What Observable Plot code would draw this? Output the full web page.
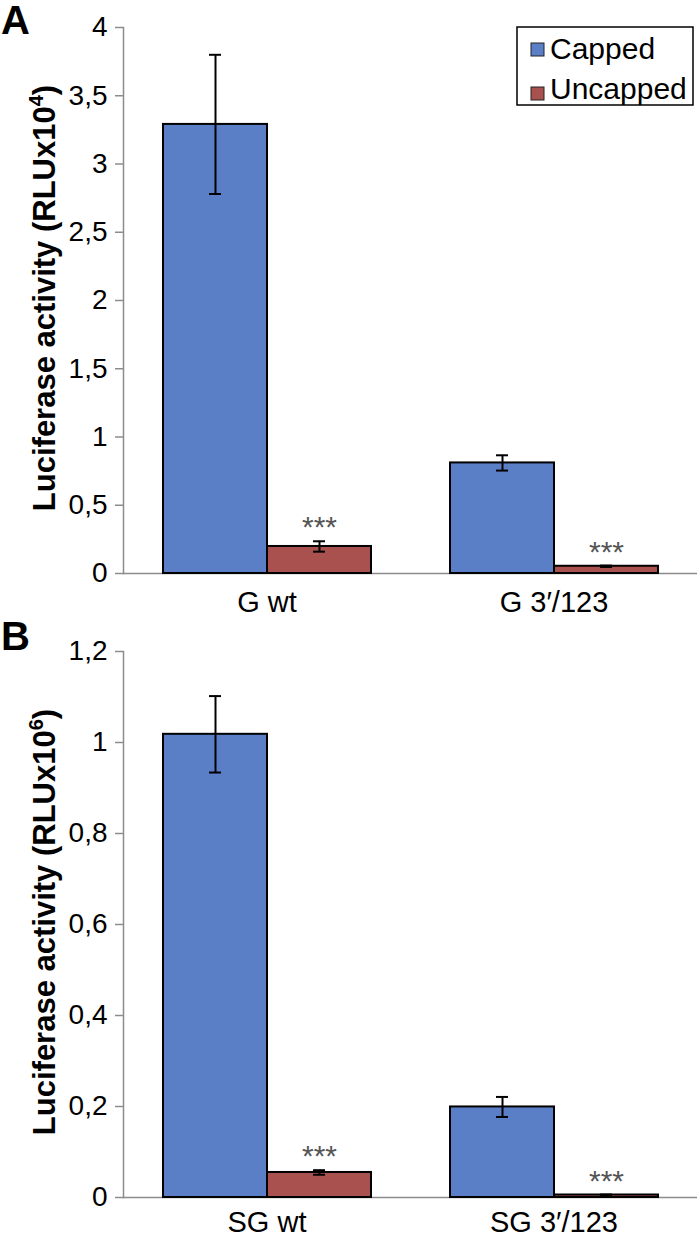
<!DOCTYPE html>
<html>
<head>
<meta charset="utf-8">
<script src="https://cdn.jsdelivr.net/npm/d3@7"></script>
<script src="https://cdn.jsdelivr.net/npm/@observablehq/plot@0.6"></script>
<style>
  body { margin: 0; background: #fff; font-family: "Liberation Sans", Arial, sans-serif; }
  #chart svg { display: block; }
</style>
</head>
<body>
<div id="chart"></div>
<script>
// ---- data ----
const seriesNames = ["Capped", "Uncapped"];
const seriesColors = ["#5a7fc7", "#a8514f"];

const groupsA = ["G wt", "G 3\u2032/123"];
const cappedA = [3.29, 0.81];
const cappedErrA = [0.51, 0.056];
const uncappedA = [0.198, 0.053];
const uncappedErrA = [0.038, 0.005];
const sigA = ["***", "***"];
const ticksA = [0, 0.5, 1, 1.5, 2, 2.5, 3, 3.5, 4];
const titleA = ["Luciferase activity (RLUx10", "4", ")"];

const groupsB = ["SG wt", "SG 3\u2032/123"];
const cappedB = [1.018, 0.199];
const cappedErrB = [0.084, 0.022];
const uncappedB = [0.055, 0.0055];
const uncappedErrB = [0.005, 0.001];
const sigB = ["***", "***"];
const ticksB = [0, 0.2, 0.4, 0.6, 0.8, 1, 1.2];
const titleB = ["Luciferase activity (RLUx10", "6", ")"];

function rows(groups, capped, cappedErr, uncapped, uncappedErr, sig) {
  const out = [];
  groups.forEach((g, i) => {
    out.push({group: g, series: seriesNames[0], value: capped[i], err: cappedErr[i], sig: ""});
    out.push({group: g, series: seriesNames[1], value: uncapped[i], err: uncappedErr[i], sig: sig[i]});
  });
  return out;
}

const AXIS_GRAY = "#8c8c8c";
const FONT = "'Liberation Sans', Arial, sans-serif";

function panel({groups, data, ticks, height, marginTop, marginBottom, labelPad, letter, letterY, title, legend}) {
  const lo = d => d.value - d.err;
  const hi = d => d.value + d.err;
  const svg = Plot.plot({
    width: 700,
    height,
    marginTop,
    marginBottom,
    marginLeft: 123,
    marginRight: 3,
    style: {fontFamily: FONT, background: "white", color: "black", overflow: "visible"},
    fx: {domain: groups, padding: 0, label: null},
    x: {domain: seriesNames, paddingInner: 0, paddingOuter: 0.373, axis: null},
    y: {domain: [0, ticks[ticks.length - 1]], axis: null},
    color: {domain: seriesNames, range: seriesColors},
    marks: [
      Plot.axisY({ticks, tickSize: 8, tickPadding: 8, fontSize: 28, stroke: AXIS_GRAY, strokeWidth: 1.5,
                  tickFormat: d => String(d).replace(".", ","), label: null}),
      Plot.frame({anchor: "left", facetAnchor: "left", stroke: AXIS_GRAY, strokeWidth: 1.5}),
      Plot.axisFx({anchor: "bottom", tickSize: 0, tickPadding: labelPad, fontSize: 29, label: null}),
      Plot.ruleY([0], {stroke: AXIS_GRAY, strokeWidth: 1.5}),
      Plot.barY(data, {fx: "group", x: "series", y: "value", fill: "series", stroke: "black", strokeWidth: 2}),
      Plot.ruleX(data, {fx: "group", x: "series", y1: lo, y2: hi, stroke: "black", strokeWidth: 2}),
      Plot.tickY(data, {fx: "group", x: "series", y: lo, insetLeft: 46, insetRight: 46, stroke: "black", strokeWidth: 2}),
      Plot.tickY(data, {fx: "group", x: "series", y: hi, insetLeft: 46, insetRight: 46, stroke: "black", strokeWidth: 2}),
      Plot.text(data.filter(d => d.sig), {fx: "group", x: "series", y: hi, text: "sig", lineAnchor: "bottom",
                  dy: -4, fontSize: 30, fill: "#555"})
    ]
  });

  const s = d3.select(svg);
  // panel letter
  s.append("text").attr("x", 1).attr("y", letterY).attr("text-anchor", "start")
    .attr("font-family", FONT).attr("font-weight", "bold").attr("font-size", 40).attr("fill", "black")
    .text(letter);
  // y-axis title with superscript
  const cy = marginTop + (height - marginTop - marginBottom) / 2 - 2;
  const t = s.append("text")
    .attr("transform", `translate(55,${cy}) rotate(-90)`)
    .attr("text-anchor", "middle")
    .attr("font-family", FONT).attr("font-weight", "bold").attr("font-size", 31).attr("fill", "black");
  t.append("tspan").text(title[0]);
  t.append("tspan").attr("font-size", 20).attr("dy", -12).text(title[1]);
  t.append("tspan").attr("dy", 12).text(title[2]);

  if (legend) {
    const g = s.append("g").attr("font-family", FONT).attr("font-size", 30).attr("fill", "black")
      .attr("text-anchor", "start");
    g.append("rect").attr("x", 517).attr("y", 27).attr("width", 176).attr("height", 78)
      .attr("fill", "white").attr("stroke", "black").attr("stroke-width", 1.5);
    seriesNames.forEach((name, i) => {
      g.append("rect").attr("x", 531).attr("y", 43 + i * 44).attr("width", 13).attr("height", 13)
        .attr("fill", seriesColors[i]).attr("stroke", "#222").attr("stroke-width", 1);
      g.append("text").attr("x", 550).attr("y", 59 + i * 40).attr("text-anchor", "start").text(name);
    });
  }
  return svg;
}

const chart = document.getElementById("chart");
chart.appendChild(panel({
  groups: groupsA,
  data: rows(groupsA, cappedA, cappedErrA, uncappedA, uncappedErrA, sigA),
  ticks: ticksA, height: 618, marginTop: 27, marginBottom: 45, labelPad: 18,
  letter: "A", letterY: 34, title: titleA, legend: true
}));
chart.appendChild(panel({
  groups: groupsB,
  data: rows(groupsB, cappedB, cappedErrB, uncappedB, uncappedErrB, sigB),
  ticks: ticksB, height: 619, marginTop: 33, marginBottom: 40, labelPad: 14,
  letter: "B", letterY: 32, title: titleB, legend: false
}));
</script>
</body>
</html>
